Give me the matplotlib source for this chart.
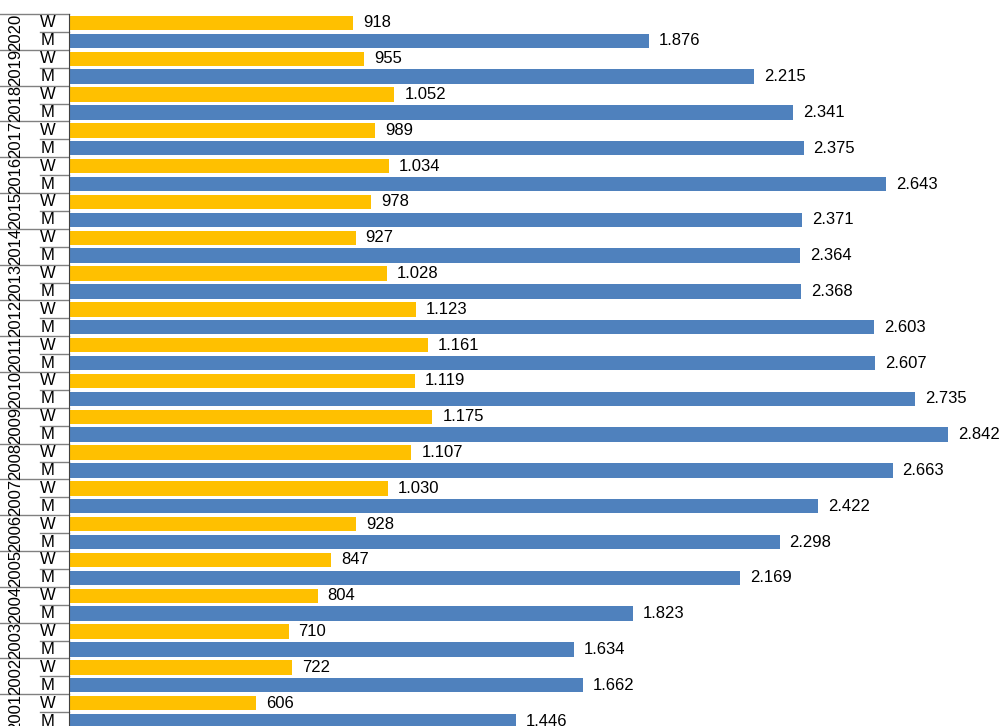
import matplotlib.pyplot as plt
import matplotlib.transforms as mtransforms

plt.rcParams['font.family'] = ['Liberation Sans', 'DejaVu Sans']

years = list(range(2020, 2000, -1))
women = [918, 955, 1052, 989, 1034, 978, 927, 1028, 1123, 1161,
         1119, 1175, 1107, 1030, 928, 847, 804, 710, 722, 606]
men = [1876, 2215, 2341, 2375, 2643, 2371, 2364, 2368, 2603, 2607,
       2735, 2842, 2663, 2422, 2298, 2169, 1823, 1634, 1662, 1446]

W_COL = '#FFC000'
M_COL = '#4F81BD'


def fmt(v):
    return f'{v:,}'.replace(',', '.')


fig = plt.figure(figsize=(10.03, 7.26), dpi=100)
ax = fig.add_axes([69 / 1003, -4 / 726, 934 / 1003, 716 / 726])

n = len(years) * 2
ax.set_ylim(n, 0)
ax.set_xlim(0, 3020)

trans = mtransforms.blended_transform_factory(ax.transAxes, ax.transData)
ax_w = 934

for i, y in enumerate(years):
    pos_w = 2 * i + 0.5
    pos_m = 2 * i + 1.5
    ax.barh(pos_w, women[i], height=0.8, color=W_COL)
    ax.barh(pos_m, men[i], height=0.8, color=M_COL)
    ax.text(women[i] + 32, pos_w, fmt(women[i]), va='center', ha='left', fontsize=12)
    ax.text(men[i] + 32, pos_m, fmt(men[i]), va='center', ha='left', fontsize=12)
    # category labels on the left
    ax.text(-21 / ax_w, pos_w, 'W', transform=trans, ha='center', va='center', fontsize=12, clip_on=False)
    ax.text(-21 / ax_w, pos_m, 'M', transform=trans, ha='center', va='center', fontsize=12, clip_on=False)
    ax.text(-53 / ax_w, 2 * i + 1, str(y), transform=trans, ha='center', va='center',
            rotation=90, fontsize=12, clip_on=False)
    ax.plot([-69 / ax_w, 0], [2 * i, 2 * i], transform=trans, color='#808080', lw=1, clip_on=False)
    ax.plot([-29 / ax_w, 0], [2 * i + 1, 2 * i + 1], transform=trans, color='#808080', lw=1, clip_on=False)

for s in ['top', 'right', 'bottom']:
    ax.spines[s].set_visible(False)
ax.spines['left'].set_color('#404040')
ax.set_xticks([])
ax.set_yticks([])

fig.savefig('out.png', dpi=100)
